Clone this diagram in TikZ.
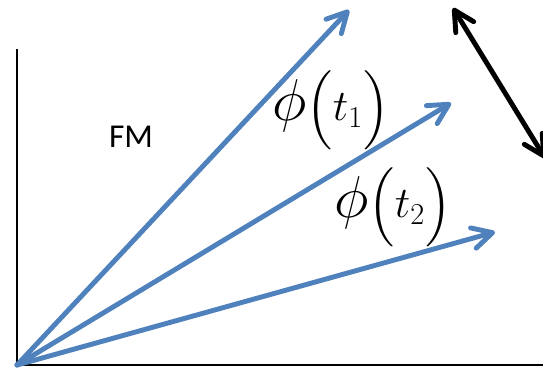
\documentclass[tikz,border=0pt]{standalone}
\usepackage{amsmath,amssymb}
\usepackage{graphicx}
\usepackage{fontspec}
\newfontfamily\labelfont{Carlito}
\usepackage{tikz}
\usetikzlibrary{arrows.meta}
\definecolor{fmblue}{RGB}{79,129,189}
\newcommand{\phase}[1]{$\scalebox{1.35}{$\phi$}\mkern-3mu\left(\vrule height 0.9em depth 0.55em width 0pt t_{#1}\right)$}

\begin{document}
\begin{tikzpicture}[every node/.style={font=\fontsize{25}{30}\selectfont}, >={Straight Barb[length=4mm, width=4.2mm, round]},
	vec/.style={->, fmblue, line width=2.8pt, line cap=round},
	axis/.style={black, line width=1.2pt}]
	\useasboundingbox (-0.34,-0.08) rectangle (10.52,7.3);
	% corner of the axes and end points
	\coordinate (o) at (0,0);
	\coordinate (ytop) at (0,6.32);
	\coordinate (xend) at (10.7,0);
	\coordinate (v1) at (6.64,7.1);
	\coordinate (v2) at (8.68,5.24);
	\coordinate (v3) at (9.56,2.66);
	\coordinate (d1) at (8.72,7.14);
	\coordinate (d2) at (10.56,4.14);
	\draw[axis] (ytop) -- (o) -- (xend);
	\draw[vec] (o) -- (v1);
	\draw[vec] (o) -- (v2);
	\draw[vec] (o) -- (v3);
	\draw[<->, black, line width=2.8pt, line cap=round] (d1) -- (d2);
	\node[font=\labelfont\fontsize{19}{22}\selectfont] (fm) at (2.28,4.56) {FM};
	\node (phi1) at (6.28,5.1) {\phase{1}};
	\node (phi2) at (7.52,3.16) {\phase{2}};
\end{tikzpicture}
\end{document}
